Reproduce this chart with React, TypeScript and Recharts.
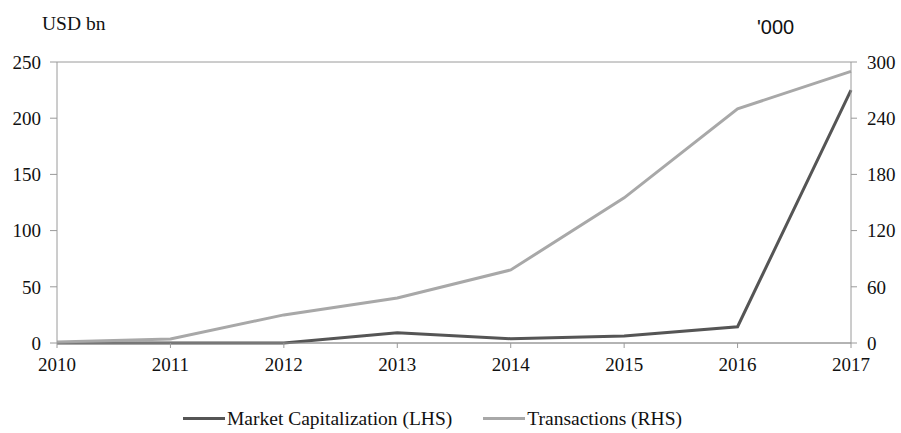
import { LineChart, Line, XAxis, YAxis, CartesianGrid, Legend } from "recharts";

const years = ["2010", "2011", "2012", "2013", "2014", "2015", "2016", "2017"];
const marketCap = [0, 0, 0, 9.2, 3.8, 6.2, 14.5, 225];
const transactions = [1, 4.3, 30, 48, 78, 155, 250, 290];
const leftTicks = [0, 50, 100, 150, 200, 250];
const rightTicks = [0, 60, 120, 180, 240, 300];

const data = years.map((year, i) => ({
  year,
  marketCap: marketCap[i],
  transactions: transactions[i],
}));

const COLORS = {
  cap: "#555555",
  tx: "#a8a8a8",
  axis: "#9a9a9a",
  text: "#111111",
};

const serif = "'Times New Roman', Times, 'Liberation Serif', 'DejaVu Serif', serif";

function LegendRow({ payload }: any) {
  return (
    <div style={{ display: "flex", fontFamily: serif, fontSize: 19.5, color: COLORS.text, height: 21, paddingLeft: 183 }}>
      {(payload || []).map((p: any) => (
        <div key={p.value} style={{ display: "flex", alignItems: "center", marginRight: 31 }}>
          <span style={{ display: "inline-block", width: 42, height: 3, background: p.color, marginRight: 2 }} />
          <span>{p.value}</span>
        </div>
      ))}
    </div>
  );
}

export default function App() {
  const tick = { fontFamily: serif, fontSize: 19, fill: COLORS.text };
  return (
    <div style={{ position: "absolute", left: 0, top: 0, width: 901, height: 433, background: "#fff" }}>
      <div style={{ position: "absolute", left: 42, top: 13, fontFamily: serif, fontSize: 19.5, color: COLORS.text }}>
        USD bn
      </div>
      <div style={{ position: "absolute", left: 757, top: 16, fontFamily: "'Liberation Sans', Arial, sans-serif", fontSize: 20, color: COLORS.text }}>
        '000
      </div>
      <LineChart width={901} height={433} data={data} margin={{ top: 62, right: 0, left: 0, bottom: 0 }}>
        <CartesianGrid vertical={false} stroke={COLORS.axis} strokeWidth={1} />
        <XAxis
          dataKey="year"
          stroke={COLORS.axis}
          tick={tick}
          tickSize={5}
          tickMargin={10}
          height={69}
          interval={0}
        />
        <YAxis
          yAxisId="left"
          domain={[0, 250]}
          ticks={leftTicks}
          stroke={COLORS.axis}
          tick={tick}
          tickSize={7}
          tickMargin={9}
          width={57}
        />
        <YAxis
          yAxisId="right"
          orientation="right"
          domain={[0, 300]}
          ticks={rightTicks}
          stroke={COLORS.axis}
          tick={tick}
          tickSize={6}
          tickMargin={10}
          width={50}
        />
        <Line
          yAxisId="left"
          dataKey="marketCap"
          name="Market Capitalization (LHS)"
          stroke={COLORS.cap}
          strokeWidth={3}
          dot={false}
          isAnimationActive={false}
        />
        <Line
          yAxisId="right"
          dataKey="transactions"
          name="Transactions (RHS)"
          stroke={COLORS.tx}
          strokeWidth={3}
          dot={false}
          isAnimationActive={false}
        />
        <Legend
          content={LegendRow}
          wrapperStyle={{ position: "absolute", left: 0, width: 901, top: 408 }}
        />
      </LineChart>
    </div>
  );
}
